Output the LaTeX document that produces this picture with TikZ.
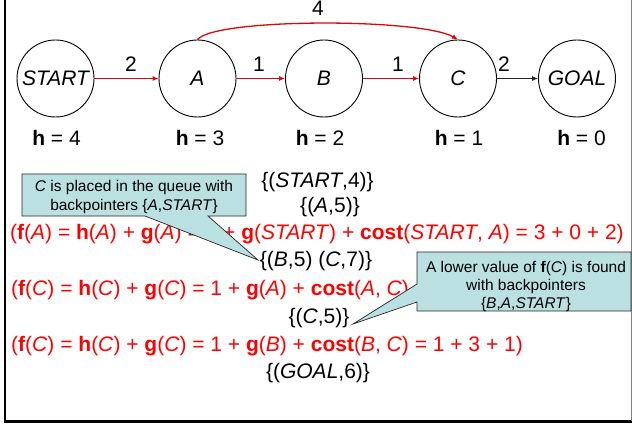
\documentclass[tikz,border=0pt]{standalone}
\usepackage{fontspec}
\setmainfont{Liberation Sans}
\usetikzlibrary{arrows.meta}
\definecolor{calloutfill}{RGB}{187,224,226}
\definecolor{edgered}{RGB}{215,10,10}
\definecolor{txtred}{RGB}{255,0,0}
\begin{document}
\begin{tikzpicture}[x=1pt,y=-1pt,
  state/.style={circle,draw,line width=0.9pt,minimum size=77pt,inner sep=0pt,font=\fontsize{21}{25}\selectfont\itshape},
  lab/.style={inner sep=0pt,font=\fontsize{21}{25}\selectfont},
  redtxt/.style={lab,text=txtred,anchor=west},
  callout/.style={draw=black!85,fill=calloutfill,line width=0.7pt,line join=miter},
  ctext/.style={inner sep=0pt,font=\fontsize{15.5}{18}\selectfont,align=center},
  redarrow/.style={draw=edgered,line width=1.3pt,-{Latex[length=6pt,width=5pt]}},
  blackarrow/.style={draw=black!85,line width=0.9pt,-{Latex[length=6pt,width=5pt]}},
]
\useasboundingbox (0,0) rectangle (632,425);
% frame
\draw[line width=2.5pt] (5,-2) -- (5,421.5) -- (633,421.5);
\draw[gray,line width=1.2pt] (631.4,-2) -- (631.4,421);

% states
\node[state] (S) at (55.5,78.5) {START};
\node[state] (A) at (197.5,78.5) {A};
\node[state] (B) at (324,78.5) {B};
\node[state] (C) at (458,78.5) {C};
\node[state] (G) at (577,78.5) {GOAL};

% edges
\draw[redarrow] (S) -- (A);
\draw[redarrow] (A) -- (B);
\draw[redarrow] (B) -- (C);
\draw[blackarrow] (C) -- (G);
\draw[redarrow] (A.north) .. controls (215,18) and (420,18) .. (C.north);

\node[lab] (w1) at (131,64.5) {2};
\node[lab] (w2) at (259,64.5) {1};
\node[lab] (w3) at (398,64.5) {1};
\node[lab] (w4) at (504,64) {2};
\node[lab] (w5) at (318,8.5) {4};

% heuristics
\node[lab] (h1) at (56.5,138) {\textbf{h} = 4};
\node[lab] (h2) at (200,138) {\textbf{h} = 3};
\node[lab] (h3) at (320,138) {\textbf{h} = 2};
\node[lab] (h4) at (459,138) {\textbf{h} = 1};
\node[lab] (h5) at (581.5,138) {\textbf{h} = 0};

% queue lines
\node[lab] (q1) at (317.5,182.5) {\{(\textit{START},4)\}};
\node[lab] (q2) at (330,207.5) {\{(\textit{A},5)\}};
\node[lab] (q3) at (316,261.5) {\{(\textit{B},5) (\textit{C},7)\}};
\node[lab] (q4) at (319,318.5) {\{(\textit{C},5)\}};
\node[lab] (q5) at (318,373) {\{(\textit{GOAL},6)\}};

% red formulas
\node[redtxt] (f1) at (10,234) {(\textbf{f}(\textit{A}) = \textbf{h}(\textit{A}) + \textbf{g}(\textit{A}) = 3 + \textbf{g}(\textit{START}) + \textbf{cost}(\textit{START}, \textit{A}) = 3 + 0 + 2)};
\node[redtxt] (f2) at (11,290) {(\textbf{f}(\textit{C}) = \textbf{h}(\textit{C}) + \textbf{g}(\textit{C}) = 1 + \textbf{g}(\textit{A}) + \textbf{cost}(\textit{A}, \textit{C})};
\node[redtxt] (f3) at (11,346) {(\textbf{f}(\textit{C}) = \textbf{h}(\textit{C}) + \textbf{g}(\textit{C}) = 1 + \textbf{g}(\textit{B}) + \textbf{cost}(\textit{B}, \textit{C}) = 1 + 3 + 1)};

% callout 1
\coordinate (t1) at (258,260);
\draw[callout] (22,174) -- (246,174) -- (246,216) -- (208,216) -- (t1) -- (145,216) -- (22,216) -- cycle;
\node[ctext] (c1) at (134,196.5) {\textit{C} is placed in the queue with\\[1pt] backpointers \{\textit{A},\textit{START}\}};

% callout 2
\coordinate (t2) at (353,324);
\draw[callout] (417,252) -- (631,252) -- (631,311) -- (417,311) -- (417,302) -- (t2) -- (417,284) -- cycle;
\node[ctext] (c2) at (526,286) {A lower value of \textbf{f}(\textit{C}) is found\\ with backpointers\\ \{\textit{B},\textit{A},\textit{START}\}};
\end{tikzpicture}
\end{document}
